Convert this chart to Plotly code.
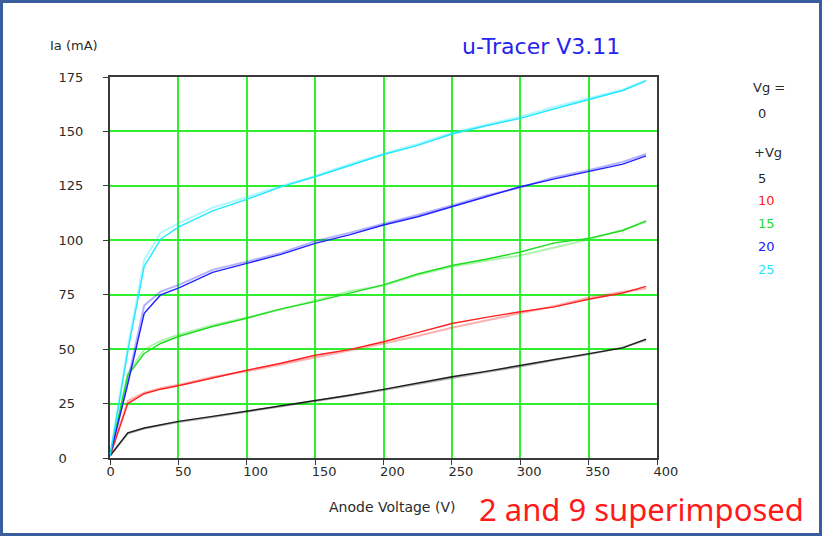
import plotly.graph_objects as go

# ---------------- data ----------------
va = [0, 13, 25, 37, 50, 75, 100, 125, 150, 175, 200, 225, 250, 275, 300, 325, 350, 375, 392]

vg_labels = ["5", "10", "15", "20", "25"]

ia_run1 = {
    "5":  [1, 11.6, 13.8, 15.3, 16.8, 19.1, 21.5, 24.0, 26.6, 28.8, 31.5, 34.4, 37.3, 39.8, 42.5, 45.4, 47.9, 50.6, 54.6],
    "10": [1, 25.0, 29.5, 31.6, 33.2, 36.8, 40.3, 43.5, 47.2, 49.8, 53.4, 57.6, 61.8, 64.6, 67.2, 69.4, 72.9, 75.8, 78.8],
    "15": [1, 38.0, 48.0, 52.6, 55.8, 60.4, 64.2, 68.5, 71.8, 75.8, 79.5, 84.5, 88.4, 91.3, 94.6, 98.8, 100.9, 104.5, 108.9],
    "20": [1, 34.0, 66.5, 74.9, 78.0, 85.3, 89.4, 93.5, 98.6, 102.5, 107.0, 110.8, 115.4, 120.0, 124.6, 128.2, 131.5, 135.0, 138.8],
    "25": [1, 49.0, 88.0, 100.5, 106.0, 113.5, 118.8, 124.5, 129.2, 134.2, 139.4, 143.6, 148.8, 152.6, 156.0, 160.4, 164.7, 168.8, 173.2],
}
ia_run2 = {
    "5":  [1, 11.2, 13.5, 15.0, 16.5, 18.8, 21.2, 23.6, 26.2, 28.6, 31.2, 34.0, 36.8, 39.5, 42.0, 45.0, 47.6, 50.8, 54.2],
    "10": [1, 26.2, 30.0, 32.0, 33.6, 37.2, 39.8, 43.0, 46.0, 49.3, 52.6, 56.0, 59.8, 63.2, 66.4, 69.8, 73.6, 76.4, 77.8],
    "15": [1, 39.0, 49.8, 53.8, 56.6, 61.0, 64.6, 68.2, 72.4, 76.6, 79.2, 84.0, 87.8, 90.6, 93.0, 96.6, 100.4, 104.8, 108.4],
    "20": [1, 35.5, 70.0, 76.4, 79.4, 86.4, 90.2, 94.2, 99.6, 103.4, 107.6, 111.6, 116.0, 120.6, 124.2, 129.0, 132.2, 136.0, 139.6],
    "25": [1, 51.0, 91.0, 103.5, 107.8, 115.0, 119.8, 125.0, 129.6, 135.0, 139.8, 144.2, 149.4, 153.0, 156.8, 161.4, 165.2, 169.2, 173.6],
}

x_ticks = [0, 50, 100, 150, 200, 250, 300, 350, 400]
y_ticks = [0, 25, 50, 75, 100, 125, 150, 175]

colors = {"5": "#1e1e1e", "10": "#ff2020", "15": "#1edc1e", "20": "#2020ff", "25": "#1ee8ff"}
light = {"5": "rgba(30,30,30,0.35)", "10": "rgba(255,32,32,0.35)", "15": "rgba(30,220,30,0.35)",
         "20": "rgba(32,32,255,0.35)", "25": "rgba(30,232,255,0.35)"}

# ---------------- figure ----------------
W, H = 822, 536
L, R, T, B = 110, 165, 77, 78
PW, PH = W - L - R, H - T - B

def pxx(x):
    return (x - L) / PW

def pxy(y):
    return (H - B - y) / PH

fig = go.Figure()
for vg in vg_labels:
    fig.add_trace(go.Scatter(x=va, y=ia_run2[vg], mode="lines",
                             line=dict(color=light[vg], width=2), hoverinfo="skip", showlegend=False))
for vg in vg_labels:
    fig.add_trace(go.Scatter(x=va, y=ia_run1[vg], mode="lines",
                             line=dict(color=colors[vg], width=1.4), showlegend=False, name="Vg " + vg))

def pad_right(s, n):
    # trailing no-break spaces (half a digit wide each) give left-aligned labels
    return s + "\u00a0" * (2 * (n - len(s)))

tick_font = dict(family="DejaVu Sans", size=13, color="#2a2a2a")
grid = "#2ef02e"

fig.update_xaxes(range=[0, 400], tickvals=x_ticks, ticktext=[str(v) for v in x_ticks],
                 showgrid=True, gridcolor=grid, gridwidth=2, zeroline=False,
                 showline=True, linecolor="#3a3a3a", linewidth=2, mirror=True,
                 ticks="outside", ticklen=5, tickcolor="#3a3a3a", tickwidth=1,
                 tickfont=tick_font, ticklabelposition="outside right", ticklabelshift=-5)
fig.update_yaxes(range=[0, 175], tickvals=y_ticks, ticktext=[pad_right(str(v), 3) for v in y_ticks],
                 showgrid=True, gridcolor=grid, gridwidth=2, zeroline=False,
                 showline=True, linecolor="#3a3a3a", linewidth=2, mirror=True,
                 ticks="outside", ticklen=5, tickcolor="#3a3a3a", tickwidth=1,
                 tickfont=tick_font, ticklabelstandoff=17)

ann = []
def text(s, x, y, color="#2a2a2a", size=13, family="DejaVu Sans", xanchor="left"):
    ann.append(dict(text=s, x=pxx(x), y=pxy(y), xref="paper", yref="paper", showarrow=False,
                    xanchor=xanchor, yanchor="middle", font=dict(family=family, size=size, color=color)))

text("Ia (mA)", 48, 45)
text("u-Tracer V3.11", 541, 46, color="#2424f0", size=22, xanchor="center")
text("Anode Voltage (V)", 327, 507, size=14)
text("2 and 9 superimposed", 477, 509, color="#ff1a1a", size=31, family="Noto Sans")
text("Vg =", 751, 87)
text("0", 756, 113)
text("+Vg", 752, 152)
leg_y = [178, 200, 223, 246.5, 269]
for vg, yy in zip(vg_labels, leg_y):
    text(vg, 756, yy, color=colors[vg])

shapes = [dict(type="rect", xref="paper", yref="paper",
               x0=pxx(1.5), x1=pxx(W - 1.5), y0=pxy(H - 1.5), y1=pxy(1.5),
               line=dict(color="#3a5d9e", width=3), layer="above")]

fig.update_layout(width=W, height=H, margin=dict(l=L, r=R, t=T, b=B),
                  paper_bgcolor="white", plot_bgcolor="white",
                  annotations=ann, shapes=shapes, showlegend=False)

fig.write_html("out.html", config={"displayModeBar": False},
               post_script="document.body.style.margin='0px';document.body.style.overflow='hidden';")
